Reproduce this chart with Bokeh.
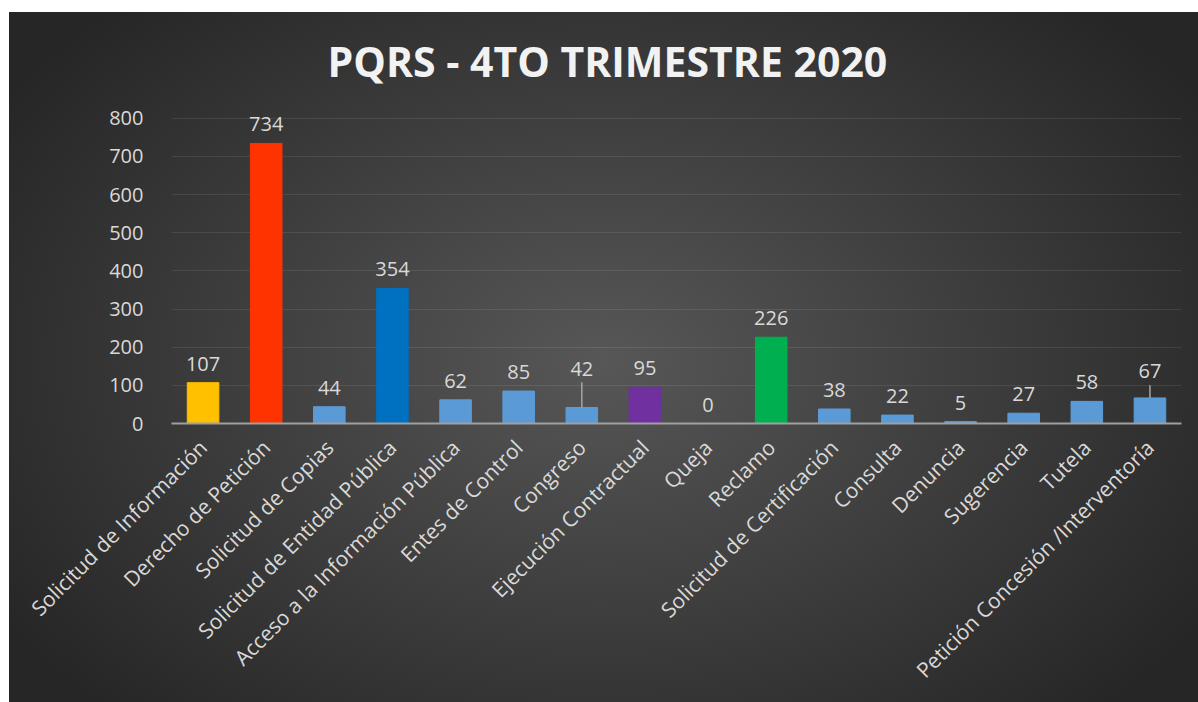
from bokeh.plotting import figure
from bokeh.models import ColumnDataSource, Range1d, FixedTicker
from bokeh.core.properties import value
from bokeh.embed import file_html
from bokeh.resources import INLINE

categories = [
    "Solicitud de Información", "Derecho de Petición", "Solicitud de Copias",
    "Solicitud de Entidad Pública", "Acceso a la Información Pública",
    "Entes de Control", "Congreso", "Ejecución Contractual", "Queja", "Reclamo",
    "Solicitud de Certificación", "Consulta", "Denuncia", "Sugerencia", "Tutela",
    "Petición Concesión /Interventoría",
]
counts = [107, 734, 44, 354, 62, 85, 42, 95, 0, 226, 38, 22, 5, 27, 58, 67]
bar_colors = [
    "#FFC000", "#FF3300", "#5B9BD5", "#0070C0", "#5B9BD5", "#5B9BD5", "#5B9BD5",
    "#7030A0", "#5B9BD5", "#00B050", "#5B9BD5", "#5B9BD5", "#5B9BD5", "#5B9BD5",
    "#5B9BD5", "#5B9BD5",
]
y_ticks = [0, 100, 200, 300, 400, 500, 600, 700, 800]
title_text = "PQRS - 4TO TRIMESTRE 2020"

# labels that were moved up, with a leader line (label lift / line top in data units)
label_lift = {"Congreso": 52, "Petición Concesión /Interventoría": 22}
leader_top = {"Congreso": 108, "Petición Concesión /Interventoría": 100}

FONT = "Open Sans"
TXT = "#d9d9d9"

label_y = [v + label_lift.get(c, 0) for c, v in zip(categories, counts)]
src = ColumnDataSource(dict(cat=categories, val=counts, color=bar_colors,
                            label_y=label_y, txt=[str(v) for v in counts]))

p = figure(
    x_range=categories, y_range=Range1d(0, 815),
    width=1189, height=697, output_backend="svg", toolbar_location=None,
    min_border_left=162, min_border_right=17, min_border_top=107, min_border_bottom=279,
    margin=(5, 0, 0, 9),
)
p.styles = {"background": "linear-gradient(#ffffff, #ffffff) top left / 100% 7px no-repeat, "
                          "radial-gradient(ellipse 60% 70% at 50% 51%, #575757 0%, #262626 100%)"}
p.background_fill_alpha = 0
p.border_fill_alpha = 0
p.outline_line_color = None

p.title.text = title_text
p.title.text_font = FONT
p.title.text_font_style = "bold"
p.title.text_font_size = "41px"
p.title.text_color = "#f2f2f2"
p.title.align = "left"
p.title.offset = 156
try:
    p.title.standoff = 48
except Exception:
    pass

p.vbar(x="cat", top="val", width=0.5, color="color", source=src)

# leader lines
lx = [c for c in categories if c in leader_top]
p.segment(x0=lx, y0=[counts[categories.index(c)] for c in lx],
          x1=lx, y1=[leader_top[c] for c in lx], line_color="#a6a6a6", line_width=1.5)

p.text(x="cat", y="label_y", text="txt", source=src, text_align="center",
       text_baseline="alphabetic", y_offset=-19, text_color=TXT,
       text_font=value(FONT), text_font_size="20px")

p.yaxis.ticker = FixedTicker(ticks=y_ticks)
p.yaxis.axis_line_color = None
p.yaxis.major_tick_line_color = None
p.yaxis.minor_tick_line_color = None
p.yaxis.major_label_standoff = 22
p.yaxis.major_label_text_font = FONT
p.yaxis.major_label_text_font_size = "20px"
p.yaxis.major_label_text_color = TXT

p.xaxis.axis_line_color = "#a0a0a0"
p.xaxis.axis_line_width = 2
p.xaxis.major_tick_line_color = None
p.xaxis.minor_tick_line_color = None
p.xaxis.major_label_orientation = 0.785398
p.xaxis.major_label_standoff = 14
p.xaxis.major_label_text_font = FONT
p.xaxis.major_label_text_font_size = "21px"
p.xaxis.major_label_text_color = TXT

p.xgrid.grid_line_color = None
p.ygrid.grid_line_color = "#ffffff"
p.ygrid.grid_line_alpha = 0.09
p.ygrid.grid_line_width = 1

open("out.html", "w").write(file_html(p, INLINE))
